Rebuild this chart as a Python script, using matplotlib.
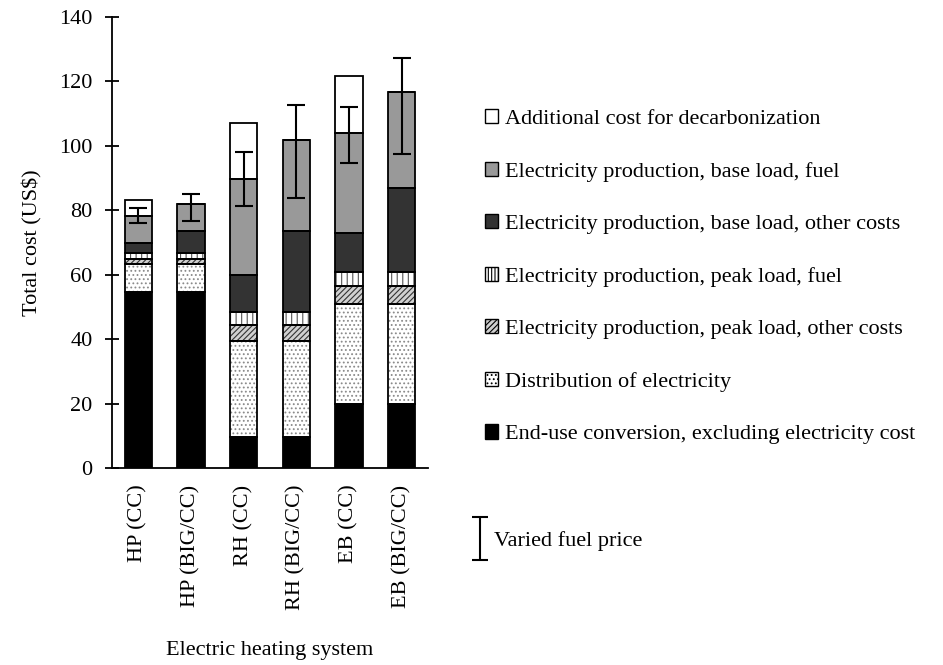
import matplotlib
matplotlib.use('Agg')
import matplotlib.pyplot as plt
import numpy as np
from matplotlib.patches import Patch
from matplotlib.legend_handler import HandlerErrorbar

plt.rcParams['font.family'] = ['Liberation Serif', 'DejaVu Serif']
plt.rcParams['hatch.linewidth'] = 0.8

systems = ['HP (CC)', 'HP (BIG/CC)', 'RH (CC)', 'RH (BIG/CC)', 'EB (CC)', 'EB (BIG/CC)']

# cost components, bottom to top of each stack
end_use = [54.5, 54.5, 9.7, 9.6, 19.8, 19.8]
distribution = [8.7, 8.7, 29.8, 29.8, 31.2, 31.2]
peak_other = [1.7, 1.7, 5.0, 5.1, 5.6, 5.6]
peak_fuel = [1.7, 1.7, 3.9, 3.9, 4.2, 4.2]
base_other = [3.1, 6.9, 11.6, 25.1, 12.2, 26.2]
base_fuel = [8.5, 8.5, 29.6, 28.3, 30.9, 29.6]
decarbonization = [5.0, 0.0, 17.4, 0.0, 17.9, 0.0]

# varied fuel price range around the total before decarbonization
err_low = [2.1, 5.2, 8.3, 17.9, 9.3, 19.2]
err_high = [2.4, 3.2, 8.5, 10.9, 8.2, 10.7]

components = [
    ('End-use conversion, excluding electricity cost', end_use, 'black', None, 'black'),
    ('Distribution of electricity', distribution, 'white', '....', '#8a8a8a'),
    ('Electricity production, peak load, other costs', peak_other, '#d0d0d0', '//////', '#333333'),
    ('Electricity production, peak load, fuel', peak_fuel, 'white', '|||', '#555555'),
    ('Electricity production, base load, other costs', base_other, '#333333', None, '#333333'),
    ('Electricity production, base load, fuel', base_fuel, '#999999', None, '#999999'),
    ('Additional cost for decarbonization', decarbonization, 'white', None, 'white'),
]

fs = 16

fig = plt.figure(figsize=(9.43, 6.65), dpi=100)
ax = fig.add_axes([112 / 943, 1 - 468 / 665, 316 / 943, 451 / 665])

x = np.arange(len(systems))
width = 0.52
bottom = np.zeros(len(systems))
handles = []
for label, vals, face, hatch, hcol in components:
    vals = np.array(vals)
    ax.bar(x, vals, width, bottom=bottom, color=face, edgecolor=hcol,
           hatch=hatch, linewidth=0, zorder=2)
    ax.bar(x, vals, width, bottom=bottom, fill=False, edgecolor='black',
           linewidth=1.3, zorder=3)
    leg_hatch = '|||||' if hatch == '|||' else hatch
    handles.append(Patch(facecolor=face, edgecolor='black', hatch=leg_hatch,
                         linewidth=1.0, label=label))
    bottom = bottom + vals

before_decarb = (np.array(end_use) + np.array(distribution) + np.array(peak_other)
                 + np.array(peak_fuel) + np.array(base_other) + np.array(base_fuel))
ax.errorbar(x, before_decarb, yerr=[err_low, err_high], fmt='none',
            ecolor='black', elinewidth=1.5, capsize=6.5, capthick=1.5, zorder=4)

ax.set_xlim(-0.5, 5.5)
ax.set_ylim(0, 140)
ax.set_yticks(range(0, 141, 20))
ax.set_xticks(x)
ax.set_xticklabels(systems, rotation=90, fontsize=fs)
ax.tick_params(axis='x', length=0, pad=12)
ax.tick_params(axis='y', direction='inout', length=10, width=1.3, labelsize=fs, pad=9)
for s in ['top', 'right']:
    ax.spines[s].set_visible(False)
for s in ['left', 'bottom']:
    ax.spines[s].set_linewidth(1.3)
ax.set_ylabel('Total cost (US$)', fontsize=fs, labelpad=12)
ax.set_xlabel('Electric heating system', fontsize=fs, labelpad=22)

fig.legend(handles=handles[::-1], loc='upper left',
           bbox_to_anchor=(474 / 943, 1 - 98 / 665), frameon=False,
           fontsize=fs, handlelength=0.6, handleheight=0.6,
           handletextpad=0.3, labelspacing=1.47, borderpad=0)

eb = ax.errorbar([np.nan], [np.nan], yerr=[[1], [1]], fmt='none', ecolor='black',
                 elinewidth=1.5, capsize=6, capthick=1.5, label='Varied fuel price')
fig.legend(handles=[eb], loc='center left', bbox_to_anchor=(447 / 943, 1 - 541 / 665),
           frameon=False, fontsize=fs, handlelength=1.2, handletextpad=0.0,
           handler_map={type(eb): HandlerErrorbar(yerr_size=0.95)})

fig.savefig('out.png', dpi=100)
